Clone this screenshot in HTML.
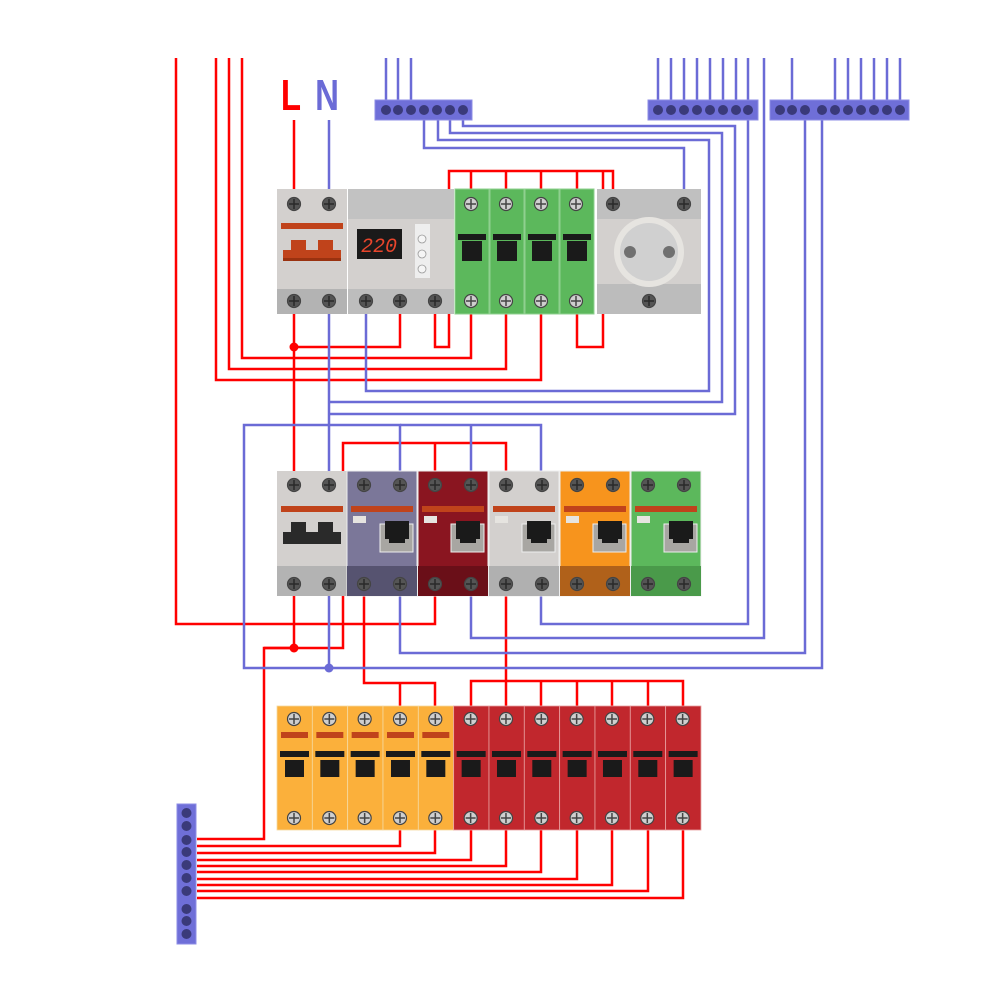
<!DOCTYPE html>
<html><head><meta charset="utf-8"><style>html,body{margin:0;padding:0;background:#fff}svg{display:block}</style></head>
<body>
<svg id="s" width="1000" height="1000" viewBox="0 0 1000 1000" xmlns="http://www.w3.org/2000/svg">
<g id="wires" fill="none" stroke-width="2.5" stroke-linejoin="miter"></g>
<g id="mods"></g>
<g id="wires2" fill="none" stroke-width="2.5"></g>
<text transform="translate(291,110) scale(0.75,1)" font-family="Liberation Sans, sans-serif" font-size="44" font-weight="bold" fill="#ff0000" text-anchor="middle">L</text>
<text transform="translate(327,110) scale(0.75,1)" font-family="Liberation Sans, sans-serif" font-size="44" font-weight="bold" fill="#6b6bd6" text-anchor="middle">N</text>
<rect x="357" y="229" width="45" height="30" fill="#1a1a1a"/>
<text x="379" y="252" font-family="Liberation Mono, monospace" font-size="20" font-style="italic" fill="#e8452c" text-anchor="middle">220</text>
</svg>
<script>
const NS="http://www.w3.org/2000/svg";
function el(p,t,a){const e=document.createElementNS(NS,t);for(const k in a)e.setAttribute(k,a[k]);document.getElementById(p).appendChild(e);return e;}
const R="#ff0000",B="#6b6bd6";
function w(c,pts,g){el(g||"wires","polyline",{points:pts,stroke:c});}
w(R,"176,58 176,624 435,624 435,596");
w(R,"216,58 216,380 541,380 541,314");
w(R,"229,58 229,369 506,369 506,314");
w(R,"242,58 242,358 471,358 471,314");
w(R,"294,120 294,189");
w(R,"294,314 294,471");
w(R,"294,347 400,347 400,314");
w(R,"435,314 435,347 449,347 449,171 613,171 613,189");
[471,506,541,577].forEach(x=>w(R,`${x},171 ${x},189`));
w(R,"577,314 577,347 603,347 603,171");
w(R,"343,471 343,443 506,443 506,471");
w(R,"435,443 435,471");
w(R,"294,596 294,648 264,648 264,839 197,839");
w(R,"264,648 343,648 343,596");
w(R,"364,596 364,683 435,683 435,706");
w(R,"400,683 400,706");
w(R,"506,596 506,681");
w(R,"471,706 471,681 683,681 683,706");
[506,541,577,612,648].forEach(x=>w(R,`${x},681 ${x},706`));
[[400,846],[435,853],[471,860],[506,866],[541,872],[577,879],[612,885],[648,891],[683,898]].forEach(([x,y])=>w(R,`${x},830 ${x},${y} 197,${y}`));
w(B,"329,120 329,189");
w(B,"329,314 329,471");
w(B,"329,596 329,668");
w(B,"366,314 366,391 709,391 709,140 438,140 438,120");
w(B,"424,120 424,148 684,148 684,189");
w(B,"450,120 450,133 722,133 722,402 329,402");
w(B,"463,120 463,126 735,126 735,414 329,414");
w(B,"400,471 400,425 244,425 244,668 822,668 822,120");
w(B,"400,425 541,425 541,471");
w(B,"471,425 471,471");
w(B,"400,596 400,653 805,653 805,120");
w(B,"471,596 471,638 764,638 764,58");
w(B,"541,596 541,624 748,624 748,58");
[386,398,411].forEach(x=>w(B,`${x},58 ${x},100`));
[658,671,684,697,710,723,736].forEach(x=>w(B,`${x},58 ${x},100`));
[792,835,848,861,874,887,900].forEach(x=>w(B,`${x},58 ${x},100`));
function bus(x,y,wd,ht,dots,vert){el("mods","rect",{x,y,width:wd,height:ht,fill:"#6f6fd8",stroke:"#8c8ce6","stroke-width":1});dots.forEach(d=>el("mods","circle",vert?{cx:x+wd/2,cy:d,r:5,fill:"#3a3a7a"}:{cx:d,cy:y+ht/2,r:5,fill:"#3a3a7a"}));}
bus(375,100,97,20,[386,398,411,424,437,450,463]);
bus(648,100,110,20,[658,671,684,697,710,723,736,748]);
bus(770,100,139,20,[780,792,805,822,835,848,861,874,887,900]);
bus(177,804,19,140,[813,826,840,852,865,878,891,909,921,934],true);
function screw(x,y,light){const g="mods";el(g,"circle",{cx:x,cy:y,r:6.5,fill:light?"#cfcfcf":"#555",stroke:"#444","stroke-width":1.2});el(g,"line",{x1:x-5,y1:y,x2:x+5,y2:y,stroke:light?"#444":"#2a2a2a","stroke-width":1.5});el(g,"line",{x1:x,y1:y-5,x2:x,y2:y+5,stroke:light?"#444":"#2a2a2a","stroke-width":1.5});}
function r(x,y,wd,h,f,extra){return el("mods","rect",Object.assign({x,y,width:wd,height:h,fill:f},extra||{}));}
r(277,189,70,125,"#d3d0ce");r(277,289,70,25,"#b3b3b3");
r(281,223,62,6,"#c0431b");r(283,250,58,10,"#c0431b");r(291,240,15,12,"#c0431b");r(318,240,15,12,"#c0431b");r(283,258,58,3,"#9a3210");
[294,329].forEach(x=>{screw(x,204);screw(x,301)});
r(348,189,106,125,"#d3d0ce");r(348,189,106,30,"#c2c2c2");r(348,289,106,25,"#bdbdbd");
r(415,224,15,54,"#eeeeee");[239,254,269].forEach(y=>el("mods","circle",{cx:422,cy:y,r:4,fill:"#f5f5f5",stroke:"#999","stroke-width":.8}));
[366,400,435].forEach(x=>screw(x,301));
[455,490,525,560].forEach(x=>{r(x,189,34,125,"#5cb85c",{stroke:"#8fd08f","stroke-width":1});r(x+3,234,28,6,"#1a1a1a");r(x+7,241,20,20,"#1a1a1a");screw(x+16,204,true);screw(x+16,301,true)});
r(597,189,104,125,"#d3d0ce");r(597,189,104,30,"#c0c0c0");r(597,284,104,30,"#bcbcbc");
el("mods","circle",{cx:649,cy:252,r:35,fill:"#e6e4e0"});el("mods","circle",{cx:649,cy:252,r:29,fill:"#d0d0d0"});
el("mods","circle",{cx:630,cy:252,r:6,fill:"#707070"});el("mods","circle",{cx:669,cy:252,r:6,fill:"#707070"});
screw(613,204);screw(684,204);screw(649,301);
r(277,471,70,125,"#d3d0ce");r(277,566,70,30,"#b3b3b3");
r(281,506,62,6,"#c0431b");r(283,532,58,12,"#2a2a2a");r(291,522,15,12,"#2a2a2a");r(318,522,15,12,"#2a2a2a");
[294,329].forEach(x=>{screw(x,485);screw(x,584)});
[[347,"#7b7799","#565370"],[418,"#8a1520","#6a0f18"],[489,"#d3d0ce","#b0b0b0"],[560,"#f7941d","#b0611a"],[631,"#5cb85c","#4a9a4a"]].forEach(([x,c,d])=>{
 r(x,471,70,125,c,{stroke:"#eee","stroke-width":1});r(x,566,70,30,d);
 r(x+4,506,62,6,"#c0431b");r(x+6,516,13,7,"#e6e4e0");
 r(x+33,524,33,28,"#a8a6a2",{stroke:"#eee","stroke-width":1});r(x+38,521,24,18,"#1a1a1a");r(x+42,536,16,7,"#1a1a1a");
 screw(x+17,485);screw(x+53,485);screw(x+17,584);screw(x+53,584);});
for(let i=0;i<12;i++){const x=277+i*35.33,c=i<5?"#fbb03b":"#c1272d";
 r(x,706,35.33,124,c,{stroke:i<5?"#f5d9a0":"#e8a0a0","stroke-width":0.8});
 if(i<5)r(x+4,732,27,6,"#c0431b");
 r(x+3,751,29,6,"#1a1a1a");r(x+8,760,19,17,"#1a1a1a");
 screw(x+17,719,true);screw(x+17,818,true);}
[[294,347,R],[294,648,R],[329,668,B]].forEach(([x,y,c])=>el("wires2","circle",{cx:x,cy:y,r:4.5,fill:c,stroke:"none"}));
</script>
</body></html>
